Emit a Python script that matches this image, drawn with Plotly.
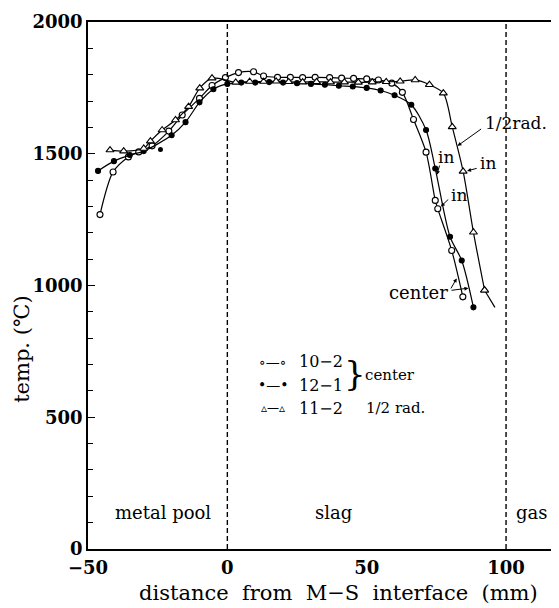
import plotly.graph_objects as go

# ---- data ----
# 10-2 center (open circles)
s102_x = [-45.7, -41, -35.5, -31.8, -27, -21, -16.2, -10, -5.5, -0.7, 4, 9.4, 13, 18, 22.6,
          27, 31.5, 36.7, 41, 45.3, 50, 54.2, 59, 62.8, 66.8, 71.3, 74.6, 75.5, 80.5, 84.5]
s102_y = [1269, 1431, 1488, 1507, 1530, 1586, 1647, 1710, 1759, 1789, 1808, 1811, 1795, 1790, 1790,
          1789, 1790, 1789, 1787, 1786, 1784, 1780, 1768, 1733, 1630, 1506, 1323, 1291, 1133, 957]

# 12-1 center (filled dots)
s121_x = [-46.4, -40.7, -35, -30, -20, -15, -10, -5, 0, 5, 10, 15, 20, 25, 30,
          35, 40, 45, 50, 55, 60, 66, 71.3, 74.6, 79.9, 84.1, 88.3]
s121_y = [1435, 1472, 1495, 1510, 1570, 1620, 1695, 1745, 1765, 1770, 1770, 1772, 1770, 1768, 1765,
          1762, 1758, 1755, 1750, 1740, 1722, 1686, 1590, 1444, 1185, 1095, 917]
s121_out_x = [-24]
s121_out_y = [1516]

# 11-2 1/2 rad. (open triangles)
s112_x = [-42.1, -37.2, -30, -27.6, -23.4, -18.6, -13.9, -9.9, -5.5, 3, 8, 13, 17.5, 22, 27,
          32, 37, 42, 47, 52, 57, 62, 67.4, 72.5, 77.5, 80.7, 84.6, 88.3, 92.3]
s112_y = [1514, 1510, 1520, 1548, 1590, 1628, 1679, 1749, 1787, 1771, 1774, 1774, 1775, 1773, 1772,
          1773, 1772, 1772, 1771, 1772, 1773, 1775, 1780, 1762, 1730, 1602, 1433, 1202, 982]
s112_tail_x = [92.3, 96]
s112_tail_y = [982, 917]

x_ticks = [-50, 0, 50, 100]
y_ticks = [0, 500, 1000, 1500, 2000]
boundaries = [0, 100]
region_labels = ["metal pool", "slag", "gas"]
region_x = [-23, 38, 109.3]

SERIF = "DejaVu Serif"
BLK = "black"

fig = go.Figure()

def add_series(x, y, symbol, size, fill):
    fig.add_trace(go.Scatter(
        x=x, y=y, mode="lines+markers",
        line=dict(color=BLK, width=1.2, shape="spline", smoothing=0.8),
        marker=dict(symbol=symbol, size=size, color=fill,
                    line=dict(color=BLK, width=1.1)),
        showlegend=False, hoverinfo="skip"))

add_series(s102_x, s102_y, "circle", 6, "white")
add_series(s121_x, s121_y, "circle", 5, BLK)
add_series(s112_x, s112_y, "triangle-up", 7, "white")
fig.add_trace(go.Scatter(x=s112_tail_x, y=s112_tail_y, mode="lines",
                         line=dict(color=BLK, width=1.2), showlegend=False, hoverinfo="skip"))
fig.add_trace(go.Scatter(x=s112_x[-1:], y=s112_y[-1:], mode="markers",
                         marker=dict(symbol="triangle-up", size=7, color="white",
                                     line=dict(color=BLK, width=1.1)),
                         showlegend=False, hoverinfo="skip"))
fig.add_trace(go.Scatter(x=s121_out_x, y=s121_out_y, mode="markers",
                         marker=dict(symbol="circle", size=5, color=BLK),
                         showlegend=False, hoverinfo="skip"))

# dashed boundaries
for b in boundaries:
    fig.add_shape(type="line", x0=b, x1=b, y0=0, y1=2000, xref="x", yref="y",
                  line=dict(color=BLK, width=1.4, dash="5px,3px"))

# region labels
for lab, xx in zip(region_labels, region_x):
    fig.add_annotation(x=xx, y=140, text=lab, showarrow=False,
                       font=dict(family=SERIF, size=18, color=BLK))

# legend (text)
leg_font = dict(family=SERIF, size=16, color=BLK)
fig.add_annotation(x=16.5, y=710, text="∘—∘", showarrow=False, font=dict(family=SERIF, size=14, color=BLK))
fig.add_annotation(x=16.5, y=622, text="•—•", showarrow=False, font=dict(family=SERIF, size=14, color=BLK))
fig.add_annotation(x=16.5, y=535, text="▵—▵", showarrow=False, font=dict(family=SERIF, size=12, color=BLK))
fig.add_annotation(x=33.5, y=710, text="10−2", showarrow=False, font=leg_font)
fig.add_annotation(x=33.5, y=622, text="12−1", showarrow=False, font=leg_font)
fig.add_annotation(x=33.5, y=535, text="11−2", showarrow=False, font=leg_font)
fig.add_annotation(x=45.8, y=668, text="}", showarrow=False, font=dict(family=SERIF, size=34, color=BLK))
fig.add_annotation(x=48.5, y=662, text="center", showarrow=False, xanchor="left", font=dict(family=SERIF, size=15, color=BLK))
fig.add_annotation(x=49, y=535, text="1/2 rad.", showarrow=False, xanchor="left", font=dict(family=SERIF, size=15, color=BLK))

# curve callouts
ann_font = dict(family=SERIF, size=17, color=BLK)
def arrow(hx, hy, ax, ay):
    fig.add_annotation(x=hx, y=hy, ax=ax, ay=ay, axref="x", ayref="y", xref="x", yref="y",
                       text="", showarrow=True, arrowhead=2, arrowsize=0.8, arrowwidth=1,
                       arrowcolor=BLK)

def callout(text, tx, ty, hx, hy, ax, ay):
    fig.add_annotation(x=tx, y=ty, text=text, showarrow=False, font=ann_font)
    arrow(hx, hy, ax, ay)

callout("1/2rad.", 103.5, 1617, 82.6, 1530, 91.6, 1598)
callout("in", 93.5, 1465, 86, 1435, 90, 1446)
callout("in", 78.5, 1488, 75.2, 1420, 76.3, 1461)
callout("in", 83.2, 1343, 76.6, 1300, 79.8, 1332)
fig.add_annotation(x=68.5, y=972, text="center", showarrow=False, font=dict(family=SERIF, size=18, color=BLK))
arrow(82.3, 1027, 79.9, 983)
arrow(86.5, 990, 79.9, 981)

# axis titles (placed as in the reference)
fig.add_annotation(xref="paper", yref="paper", x=0.531, y=-0.0835, xanchor="center", yanchor="middle",
                   text="distance  from  M−S  interface  (mm)",
                   showarrow=False, font=dict(family=SERIF, size=21, color=BLK))
fig.add_annotation(xref="paper", yref="paper", x=-0.14, y=0.378, xanchor="center", yanchor="middle",
                   text="temp. (℃)", textangle=-90,
                   showarrow=False, font=dict(family=SERIF, size=21, color=BLK))

tickfont = dict(family=SERIF, size=18, color=BLK, weight="bold")
fig.update_xaxes(range=[-50, 119], tickvals=x_ticks,
                 ticktext=[("−" + str(-v)) if v < 0 else str(v) for v in x_ticks],
                 showline=True, linecolor=BLK, linewidth=1.5, mirror=True, ticks="",
                 showgrid=False, zeroline=False, tickfont=tickfont, automargin=False,
                 ticklabelstandoff=2)
fig.update_yaxes(range=[0, 2000], tickvals=y_ticks, showline=True, linecolor=BLK, linewidth=1.5,
                 mirror="allticks", ticks="inside", ticklen=7, tickcolor=BLK, tickwidth=1.2,
                 minor=dict(dtick=100, ticks="inside", ticklen=5, tickcolor=BLK, tickwidth=1),
                 showgrid=False, zeroline=False, tickfont=tickfont, automargin=False)

# the page body adds an 8px offset, so the figure is sized to fit the window after it
fig.update_layout(width=551, height=600, margin=dict(l=80, r=0, t=14, b=59),
                  paper_bgcolor="white", plot_bgcolor="white", showlegend=False)

fig.write_html("out.html")
